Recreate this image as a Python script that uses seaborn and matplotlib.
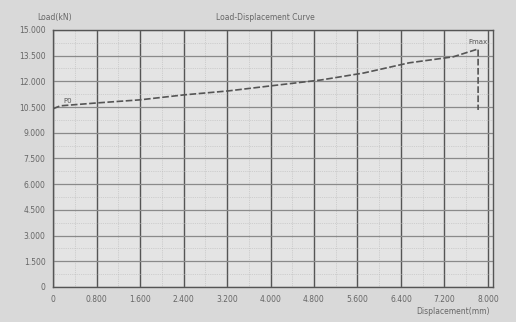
import matplotlib
matplotlib.use("Agg")
import matplotlib.pyplot as plt
import seaborn as sns
import pandas as pd
import numpy as np
from matplotlib.ticker import FixedLocator, FuncFormatter, MultipleLocator

displacement = [0.00, 0.13, 0.81, 1.60, 2.41, 3.22, 3.99, 4.93, 5.72, 6.55, 7.36, 7.82, 7.82]
load = [10.40, 10.57, 10.74, 10.92, 11.21, 11.44, 11.73, 12.08, 12.49, 13.08, 13.43, 13.89, 10.33]
x_ticks = [0, 0.8, 1.6, 2.4, 3.2, 4.0, 4.8, 5.6, 6.4, 7.2, 8.0]
y_ticks = [0, 1.5, 3.0, 4.5, 6.0, 7.5, 9.0, 10.5, 12.0, 13.5, 15.0]

df = pd.DataFrame({"Displacement": displacement, "Load": load})

sns.set_style("white")
plt.rcParams['font.family'] = ['DejaVu Sans']

fig = plt.figure(figsize=(5.16, 3.22), dpi=100, facecolor="#d9d9d9")
ax = fig.add_axes([0.103, 0.109, 0.852, 0.798])
ax.set_facecolor("#e4e4e4")

sns.lineplot(data=df, x="Displacement", y="Load", sort=False, estimator=None, ax=ax,
             color="#555555", linewidth=1.2, linestyle=(0, (4, 1.5)))

ax.set_xlim(0, 8.09)
ax.set_ylim(0, 15)
ax.xaxis.set_major_locator(FixedLocator(x_ticks))
ax.yaxis.set_major_locator(FixedLocator(y_ticks))
ax.xaxis.set_minor_locator(MultipleLocator(0.4))
ax.yaxis.set_minor_locator(MultipleLocator(0.75))
fmt = FuncFormatter(lambda v, p: "0" if abs(v) < 1e-9 else f"{v:.3f}")
ax.xaxis.set_major_formatter(fmt)
ax.yaxis.set_major_formatter(fmt)

ax.grid(which="major", axis="x", color="#555555", linewidth=1.0)
ax.grid(which="major", axis="y", color="#8a8a8a", linewidth=0.9)
ax.grid(which="minor", color="#b8b8b8", linewidth=0.5, linestyle=":")
ax.tick_params(axis="both", which="major", labelsize=5.5, labelcolor="#666666",
               length=2, color="#555555")
ax.tick_params(which="minor", length=0)
for s in ax.spines.values():
    s.set_color("#555555")
    s.set_linewidth(1.0)

ax.set_xlabel("")
ax.set_ylabel("")
fig.text(0.072, 0.945, "Load(kN)", fontsize=5.5, color="#666666", ha="left", va="center")
fig.text(0.515, 0.945, "Load-Displacement Curve", fontsize=5.5, color="#666666", ha="center", va="center")
fig.text(0.95, 0.032, "Displacement(mm)", fontsize=5.5, color="#666666", ha="right", va="center")
ax.text(displacement[-2], load[-2] + 0.25, "Fmax", fontsize=5, color="#555555", ha="center", va="bottom")
ax.text(displacement[1] + 0.05, load[1] + 0.1, "P0", fontsize=5, color="#555555", ha="left", va="bottom")

fig.savefig("out.png", dpi=100, facecolor=fig.get_facecolor())
